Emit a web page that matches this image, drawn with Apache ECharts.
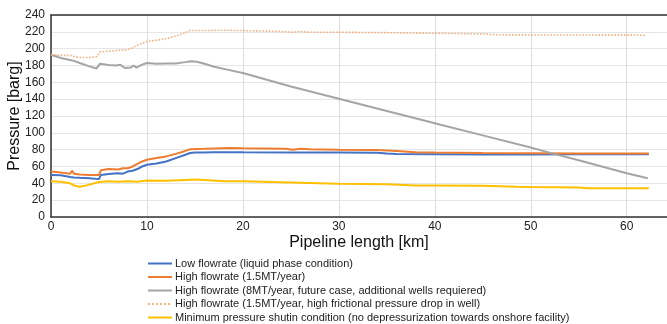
<!DOCTYPE html>
<html><head><meta charset="utf-8">
<script src="https://cdn.jsdelivr.net/npm/echarts@6/dist/echarts.min.js"></script>
<style>html,body{margin:0;padding:0;background:#fff}#c{width:667px;height:324px}</style>
</head><body><div id="c"></div>
<script>
var seriesNames = [
  "Low flowrate (liquid phase condition)",
  "High flowrate (1.5MT/year)",
  "High flowrate (8MT/year, future case, additional wells requiered)",
  "High flowrate (1.5MT/year, high frictional pressure drop in well)",
  "Minimum pressure shutin condition (no depressurization towards onshore facility)"
];
var lowKm  = [0,1,2,2.2,2.4,3,4,5,5.2,6,7,7.5,8,8.5,9,9.5,10,11,12,13,14,14.5,15,16,17,20,25,30,34,35,36,40,45,50,55,62.3];
var lowVal = [50,49.5,47.5,49,47,46.5,46,45,50,51,52,51.5,54,55,57,60,62,63.5,66,70,74,76,76.5,76.5,77,76.8,76.7,76.5,76.3,75.5,74.8,74.5,74.2,74.3,74.5,74.5];
var highKm  = [0,1,2,2.2,2.4,3,4,5,5.2,6,7,7.5,8,8.5,9,9.5,10,11,12,13,14,14.5,16,17,18.5,20,24.5,25.2,26,27,30,34,36,38,40,45,50,55,62.3];
var highVal = [54,53,51.5,55,51.5,50.5,50,50,55.5,57,56.5,58,58,60,63,66,68,70,72,75,78.5,80.5,81,81.5,82,81.6,81,80,81,80.5,80,79.5,78.5,77,76.5,76,75.8,75.5,75.4];
var futKm  = [0,0.5,1,2,2.2,2.4,3,4,4.75,5.1,6,6.8,7.2,7.7,8.3,8.6,8.9,9.5,10,11,12,13,14,14.6,15.2,16,17,18.6,20,25,30,35,38.8,40.5,45,50,52.4,55,60,62.2];
var futVal = [192.5,191,189,186.5,188.5,185.5,183,179,176.5,182,180.5,180,181,177,177.5,180,177.5,181,183,182,182.5,182.5,184,185,184.5,182,178.5,174.5,171,155,140.5,126,115,110,97,82.5,75,67.5,52,46];
var fricKm  = [0,1,2,2.5,3,4,4.75,5.1,6,7,7.8,8.3,8.6,9,10,11,12,13,14,14.5,16,18,20,24,25,26,27,30,35,38,40,45,46.5,50,55,62];
var fricVal = [193,192,192,190.5,189.5,189.5,190.5,196,197,198,198.5,200,201.5,204,208.5,210,212,215,219,221.5,221.5,222,221.5,220.5,219.5,220.5,219.5,219.5,219,218.5,218.3,217.5,216.5,216.3,216.2,216];
var shutKm  = [0,1,2,2.5,3,3.5,4,5,6,7,8,9,10,12,14,15,16,18,20,25,30,35,38,40,45,48.5,50,55,56,62.3];
var shutVal = [42.5,42,40,37,36,37,38.5,41.5,42.5,42,42.5,42,43.5,43,44,44.5,44,42.5,42.5,41,39.5,39,37.5,37.5,37,35.8,35.5,35,34.2,34.2];
var xTicks = [0,10,20,30,40,50,60];
var yTicks = [0,20,40,60,80,100,120,140,160,180,200,220,240];

function pairs(xs, ys){ return xs.map(function(x,i){ return [x, ys[i]]; }); }
var colors = ['#4472C4','#ED7D31','#A5A5A5','#F4B183','#FFC000'];
var datasets = [pairs(lowKm,lowVal), pairs(highKm,highVal), pairs(futKm,futVal), pairs(fricKm,fricVal), pairs(shutKm,shutVal)];
var series = datasets.map(function(d,i){
  return {
    name: seriesNames[i], type:'line', data:d, showSymbol:false, symbol:'none',
    lineStyle:{color:colors[i], width: i===3 ? 1.6 : 2, type: i===3 ? 'dotted' : 'solid'},
    itemStyle:{color:colors[i]}, animation:false, z: i===3 ? 3 : 2
  };
});
var chart = echarts.init(document.getElementById('c'));
chart.setOption({
  animation:false,
  grid:{left:51, right:0, top:15, bottom:107, containLabel:false, outerBoundsMode:'none'},
  legend:{
    orient:'vertical', left:147, top:258, itemWidth:24, itemHeight:10, itemGap:2.5, padding:0,
    height:80,
    itemStyle:{opacity:0},
    textStyle:{fontFamily:'Liberation Sans, Arial', fontSize:11, color:'#222', lineHeight:11, padding:[0,0,0,-2]},
    data: seriesNames
  },
  xAxis:[{
    type:'value', min:0, max:64.2, interval:10,
    name:'Pipeline length [km]', nameLocation:'middle', nameGap:18, nameMoveOverlap:false,
    nameTextStyle:{fontFamily:'Liberation Sans, Arial', fontSize:16, color:'#111'},
    axisLine:{show:true, lineStyle:{color:'#333', width:1.5}},
    axisTick:{show:false},
    axisLabel:{fontFamily:'Liberation Sans, Arial', fontSize:12, color:'#222', margin:4,
      formatter:function(v){ return xTicks.indexOf(v)>=0 ? String(v) : ''; }},
    splitLine:{show:true, lineStyle:{color:'#dcdcdc', width:1}}
  },{
    type:'value', position:'top', min:0, max:64.2, interval:10,
    axisLine:{show:true, onZero:false, lineStyle:{color:'#333', width:1.5}},
    axisTick:{show:false}, axisLabel:{show:false}, splitLine:{show:false}
  }],
  yAxis:{
    type:'value', min:0, max:240, interval:20,
    name:'Pressure [barg]', nameLocation:'middle', nameGap:28, nameMoveOverlap:false,
    nameTextStyle:{fontFamily:'Liberation Sans, Arial', fontSize:16, color:'#111'},
    axisLine:{show:true, lineStyle:{color:'#333', width:1.5}},
    axisTick:{show:false},
    axisLabel:{fontFamily:'Liberation Sans, Arial', fontSize:12, color:'#222', margin:6,
      formatter:function(v){ return yTicks.indexOf(v)>=0 ? String(v) : ''; }},
    splitLine:{show:true, lineStyle:{color:'#e6e6e6', width:1}}
  },
  series: series
});
</script></body></html>
